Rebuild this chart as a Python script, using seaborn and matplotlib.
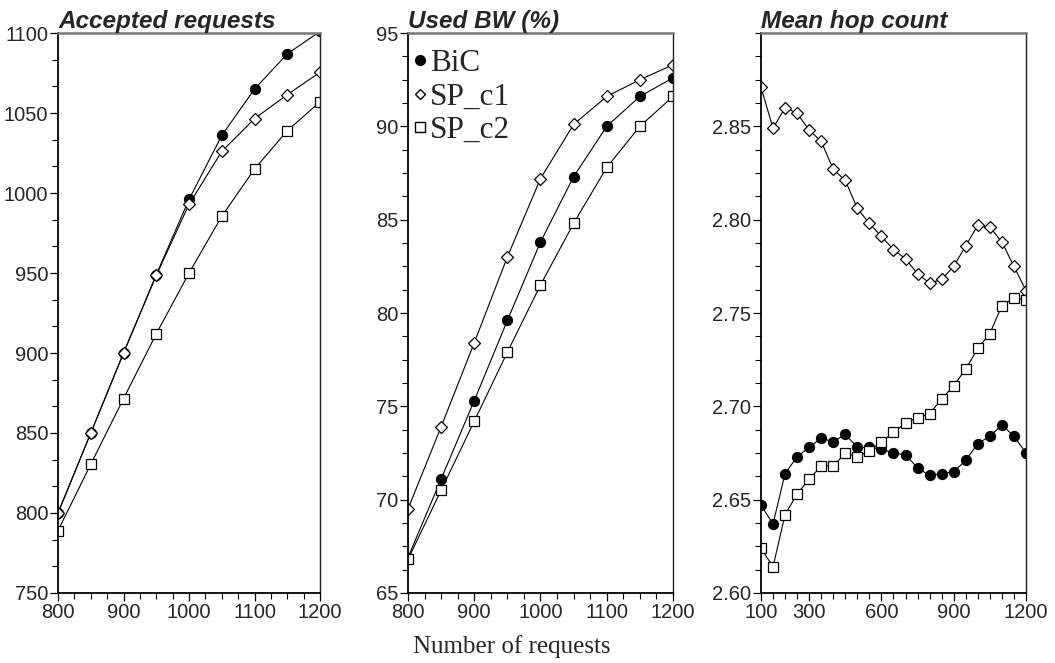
import matplotlib
matplotlib.use("Agg")
import matplotlib.pyplot as plt
import seaborn as sns
from matplotlib.lines import Line2D
from matplotlib.ticker import MultipleLocator, FixedLocator

sns.set_style("ticks")
plt.rcParams['font.family'] = ['Liberation Sans', 'DejaVu Sans']

# ---- datos ----
x_req = [800, 850, 900, 950, 1000, 1050, 1100, 1150, 1200]

acc_bic = [800, 850, 900, 949, 996, 1036, 1065, 1087, 1101]
acc_sp1 = [800, 850, 900, 948.5, 993, 1026, 1046.5, 1061.5, 1075.5]
acc_sp2 = [789, 830.5, 871.5, 912, 950, 985.5, 1015, 1039, 1057]

bw_bic = [66.9, 71.1, 75.3, 79.6, 83.8, 87.3, 90.0, 91.6, 92.6]
bw_sp1 = [69.5, 73.9, 78.4, 83.0, 87.2, 90.1, 91.6, 92.5, 93.3]
bw_sp2 = [66.8, 70.5, 74.2, 77.9, 81.5, 84.8, 87.8, 90.0, 91.6]

x_hop = [100, 150, 200, 250, 300, 350, 400, 450, 500, 550, 600, 650,
         700, 750, 800, 850, 900, 950, 1000, 1050, 1100, 1150, 1200]
hop_bic = [2.647, 2.637, 2.664, 2.673, 2.678, 2.683, 2.681, 2.685, 2.678,
           2.678, 2.677, 2.675, 2.674, 2.667, 2.663, 2.664, 2.665, 2.671,
           2.680, 2.684, 2.690, 2.684, 2.675]
hop_sp1 = [2.871, 2.849, 2.860, 2.857, 2.848, 2.842, 2.827, 2.821, 2.806,
           2.798, 2.791, 2.784, 2.779, 2.771, 2.766, 2.768, 2.775, 2.786,
           2.797, 2.796, 2.788, 2.775, 2.762]
hop_sp2 = [2.624, 2.614, 2.642, 2.653, 2.661, 2.668, 2.668, 2.675, 2.673,
           2.676, 2.681, 2.686, 2.691, 2.694, 2.696, 2.704, 2.711, 2.720,
           2.731, 2.739, 2.754, 2.758, 2.757]

etiquetas = ["BiC", "SP_c1", "SP_c2"]

fig = plt.figure(figsize=(10.55, 6.63), dpi=100)
ax1 = fig.add_axes([0.055, 0.1056, 0.2484, 0.8446])
ax2 = fig.add_axes([0.3867, 0.1056, 0.2512, 0.8446])
ax3 = fig.add_axes([0.7213, 0.1056, 0.2512, 0.8446])

estilos = [dict(marker="o", markersize=7.2, markerfacecolor="black"),
           dict(marker="D", markersize=5.8, markerfacecolor="white"),
           dict(marker="s", markersize=7.6, markerfacecolor="white")]


def dibujar(ax, x, series):
    for y, est in zip(series, estilos):
        sns.lineplot(x=x, y=y, ax=ax, color="black", linewidth=0.8,
                     markeredgecolor="black", markeredgewidth=0.9, **est)


dibujar(ax1, x_req, [acc_bic, acc_sp1, acc_sp2])
dibujar(ax2, x_req, [bw_bic, bw_sp1, bw_sp2])
dibujar(ax3, x_hop, [hop_bic, hop_sp1, hop_sp2])

ax1.set_xlim(800, 1200)
ax1.set_ylim(750, 1100)
ax1.set_xticks([800, 900, 1000, 1100, 1200])
ax1.xaxis.set_minor_locator(MultipleLocator(25))
ax1.set_yticks([750, 800, 850, 900, 950, 1000, 1050, 1100])
ax1.yaxis.set_minor_locator(MultipleLocator(50 / 3))

ax2.set_xlim(800, 1200)
ax2.set_ylim(65, 95)
ax2.set_xticks([800, 900, 1000, 1100, 1200])
ax2.xaxis.set_minor_locator(MultipleLocator(25))
ax2.set_yticks([65, 70, 75, 80, 85, 90, 95])
ax2.yaxis.set_minor_locator(MultipleLocator(1.25))

ax3.set_xlim(100, 1200)
ax3.set_ylim(2.60, 2.90)
ax3.set_xticks([100, 300, 600, 900, 1200])
ax3.xaxis.set_minor_locator(FixedLocator(x_hop))
ax3.set_yticks([2.60, 2.65, 2.70, 2.75, 2.80, 2.85])
ax3.set_yticklabels(["2.60", "2.65", "2.70", "2.75", "2.80", "2.85"])
ax3.yaxis.set_minor_locator(MultipleLocator(0.0125))

titulos = ["Accepted requests", "Used BW (%)", "Mean hop count"]
for ax, t in zip([ax1, ax2, ax3], titulos):
    ax.set_xlabel("")
    ax.set_ylabel("")
    ax.set_title(t, loc="left", fontsize=17.5, fontweight="bold",
                 fontstyle="italic", pad=0.5)
    ax.tick_params(axis="both", which="major", labelsize=14.5, length=6,
                   width=0.9, direction="out", pad=1, color="black")
    ax.tick_params(axis="both", which="minor", length=4, width=0.8,
                   direction="out", color="black")
    ax.spines["left"].set_color("black")
    ax.spines["left"].set_linewidth(1.3)
    ax.spines["bottom"].set_color("black")
    ax.spines["bottom"].set_linewidth(1.3)
    ax.spines["top"].set_color("#777777")
    ax.spines["top"].set_linewidth(1.8)
    ax.spines["right"].set_color("#222222")
    ax.spines["right"].set_linewidth(1.0)

handles = [Line2D([], [], linestyle="none", marker="o", markersize=7,
                  markerfacecolor="black", markeredgecolor="black"),
           Line2D([], [], linestyle="none", marker="D", markersize=5,
                  markerfacecolor="white", markeredgecolor="black"),
           Line2D([], [], linestyle="none", marker="s", markersize=6.5,
                  markerfacecolor="white", markeredgecolor="black")]
ax2.legend(handles, etiquetas, loc="upper left", frameon=False,
           bbox_to_anchor=(0.0, 0.98),
           prop={"family": "Liberation Serif", "size": 22.5},
           handlelength=0.5, handletextpad=0.05, labelspacing=0.15,
           borderaxespad=0.05, borderpad=0.1)

fig.text(0.485, 0.008, "Number of requests", ha="center", va="bottom",
         family="Liberation Serif", fontsize=18)

fig.savefig("out.png", dpi=100)
